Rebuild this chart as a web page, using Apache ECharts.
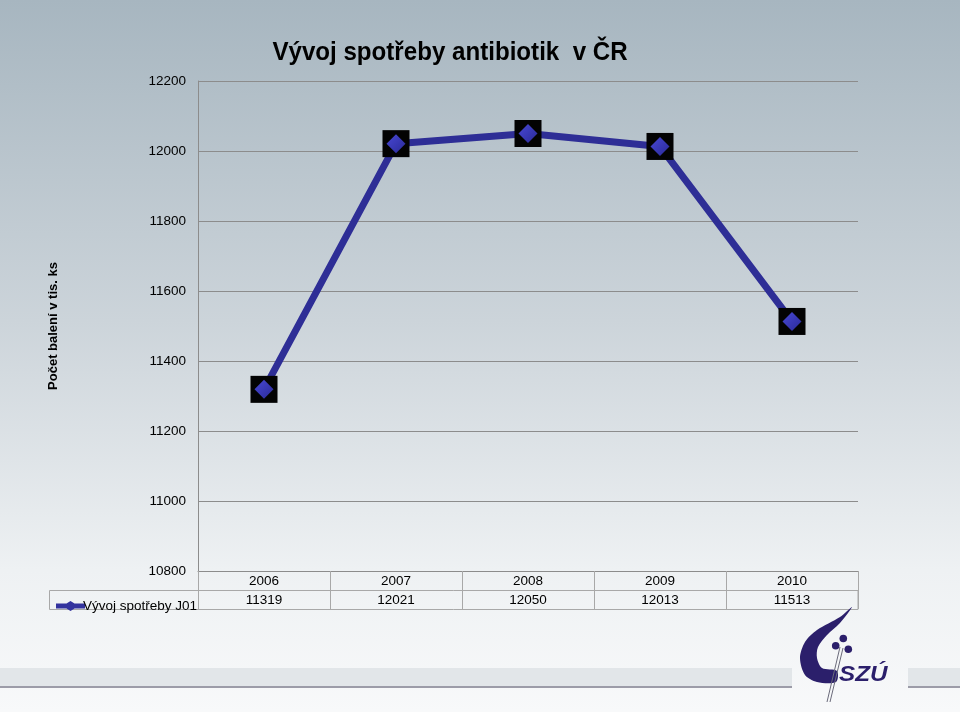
<!DOCTYPE html>
<html><head><meta charset="utf-8">
<script src="https://cdn.jsdelivr.net/npm/echarts@6/dist/echarts.min.js"></script>
<style>html,body{margin:0;padding:0;}#c{width:960px;height:712px;}</style>
</head><body><div id="c"></div>
<script>
const years = ['2006', '2007', '2008', '2009', '2010'];
const values = [11319, 12021, 12050, 12013, 11513];
const seriesName = 'Vývoj spotřeby J01';
const titleText = 'Vývoj spotřeby antibiotik  v ČR';
const yAxisName = 'Počet balení v tis. ks';

const chart = echarts.init(document.getElementById('c'));
const navy = '#2b1f6b';
const lineColor = '#2e2e96';
const option = {
  animation: false,
  grid: {left: 198, right: 102, top: 81, bottom: 141},
  legend: {
    data: [{name: seriesName, icon: 'path://M0,2.5H10.5L14.5,0L18.5,2.5H29V7.5H18.5L14.5,10L10.5,7.5H0Z',
            itemStyle: {color: '#33339e'}}],
    left: 51, top: 594, itemWidth: 29, itemHeight: 10, itemGap: 2,
    textStyle: {fontFamily: 'Liberation Sans', fontSize: 13.5, color: '#000', padding: [0,0,0,-7]}
  },
  xAxis: [{
    type: 'category', data: years, position: 'bottom',
    axisLine: {lineStyle: {color: '#8c8c8c', width: 1}},
    axisTick: {show: true, length: 38, lineStyle: {color: '#a8a8a8'}},
    axisLabel: {margin: 3, fontFamily: 'Liberation Sans', fontSize: 13.5, color: '#000'}
  }, {
    type: 'category', data: values.map(String), position: 'bottom', offset: 19,
    axisLine: {show: false}, axisTick: {show: false},
    axisLabel: {margin: 3, fontFamily: 'Liberation Sans', fontSize: 13.5, color: '#000'}
  }],
  yAxis: {
    type: 'value', min: 10800, max: 12200, interval: 200,
    name: yAxisName, nameLocation: 'middle', nameGap: 138, nameRotate: 90,
    nameTextStyle: {fontFamily: 'Liberation Sans', fontWeight: 'bold', fontSize: 13, color: '#000'},
    axisLine: {show: true, lineStyle: {color: '#8c8c8c'}},
    axisTick: {show: false},
    axisLabel: {margin: 12, fontFamily: 'Liberation Sans', fontSize: 13.5, color: '#000',
                formatter: v => String(v)},
    splitLine: {lineStyle: {color: '#8c8c8c', width: 1}}
  },
  series: [{
    name: seriesName, type: 'line', data: values, z: 2,
    symbol: 'diamond', symbolSize: 14,
    lineStyle: {color: lineColor, width: 7},
    itemStyle: {color: '#3a3ab8'}
  }, {
    name: 'sq', type: 'scatter', data: values, z: 3, symbol: 'rect', symbolSize: 27,
    itemStyle: {color: '#030303', opacity: 1}
  }, {
    name: 'dm', type: 'scatter', data: values, z: 4, symbol: 'diamond', symbolSize: 19,
    itemStyle: {opacity: 1, color: new echarts.graphic.LinearGradient(0,0,1,1,[{offset:0,color:'#4848d4'},{offset:1,color:'#2a2a98'}])}
  }],
  graphic: [
    {type: 'rect', z: -100, silent: true, shape: {x: 0, y: 0, width: 960, height: 712},
     style: {fill: new echarts.graphic.LinearGradient(0,0,0,1,[
       {offset: 0, color: '#a7b6c0'}, {offset: 0.45, color: '#ccd4da'},
       {offset: 0.8, color: '#eef1f3'}, {offset: 1, color: '#f8f9fa'}])}},
    {type: 'text', z: 5, silent: true, x: 450, y: 41, scaleX: 0.965, originX: 0,
     style: {text: titleText, fill: '#000', font: 'bold 25px "Liberation Sans"', textAlign: 'center'}},
    // table borders
    {type: 'rect', z: 1, silent: true, shape: {x: 49.5, y: 590.5, width: 808.5, height: 19},
     style: {fill: 'none', stroke: '#a8a8a8', lineWidth: 1}},
    // bottom strip
    {type: 'rect', z: -50, silent: true, shape: {x: 0, y: 668, width: 792, height: 19}, style: {fill: '#e2e6e9'}},
    {type: 'rect', z: -50, silent: true, shape: {x: 0, y: 686, width: 792, height: 2}, style: {fill: '#9c9ca8'}},
    {type: 'rect', z: -50, silent: true, shape: {x: 908, y: 668, width: 52, height: 19}, style: {fill: '#e2e6e9'}},
    {type: 'rect', z: -50, silent: true, shape: {x: 908, y: 686, width: 52, height: 2}, style: {fill: '#9c9ca8'}},
    // logo
    {type: 'polygon', z: 10, silent: true, shape: {smooth: 0.3, points: [
      [852,607],[840,617],[817,630],[805,642],[800,658],[805,675],[817,682],[836,682],[837,671],
      [822,668],[817,658],[818,647],[827,635],[840,623]]},
     style: {fill: navy}},
    {type: 'line', z: 10, silent: true, shape: {x1: 840, y1: 647, x2: 827, y2: 702}, style: {stroke: '#6a6a7a', lineWidth: 1}},
    {type: 'line', z: 10, silent: true, shape: {x1: 843, y1: 648, x2: 830, y2: 702}, style: {stroke: '#6a6a7a', lineWidth: 1}},
    {type: 'circle', z: 11, silent: true, shape: {cx: 843.3, cy: 638.5, r: 3.8}, style: {fill: navy}},
    {type: 'circle', z: 11, silent: true, shape: {cx: 835.7, cy: 645.7, r: 3.8}, style: {fill: navy}},
    {type: 'circle', z: 11, silent: true, shape: {cx: 848.3, cy: 649.3, r: 3.8}, style: {fill: navy}},
    {type: 'text', z: 11, silent: true, x: 839, y: 664, scaleX: 1.1, originX: 0,
     style: {text: 'SZÚ', fill: navy, font: 'italic bold 22px "Liberation Sans"'}}
  ]
};
chart.setOption(option);
</script></body></html>
